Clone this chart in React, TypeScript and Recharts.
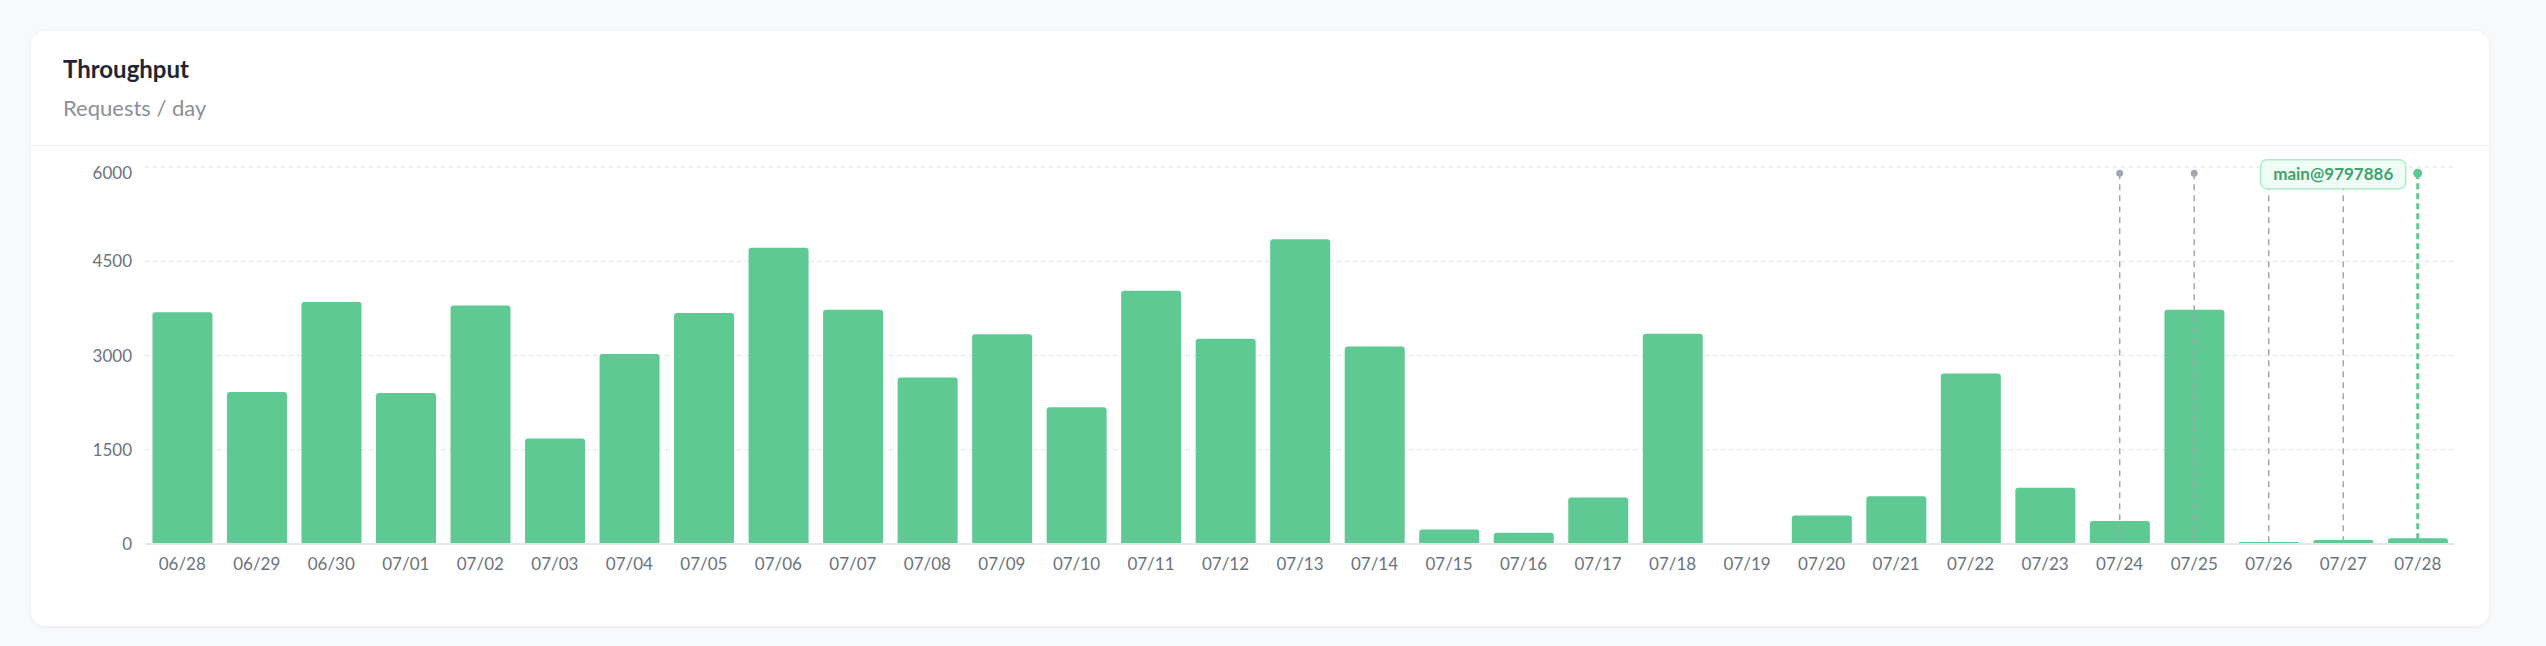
import React from "react";
import {
  Bar,
  BarChart,
  CartesianGrid,
  ReferenceDot,
  ReferenceLine,
  XAxis,
  YAxis,
} from "recharts";

const dates = [
  "06/28", "06/29", "06/30", "07/01", "07/02", "07/03", "07/04", "07/05",
  "07/06", "07/07", "07/08", "07/09", "07/10", "07/11", "07/12", "07/13",
  "07/14", "07/15", "07/16", "07/17", "07/18", "07/19", "07/20", "07/21",
  "07/22", "07/23", "07/24", "07/25", "07/26", "07/27", "07/28",
];
const requests = [
  3690, 2420, 3850, 2405, 3795, 1680, 3025, 3675, 4715, 3730, 2650, 3340,
  2175, 4030, 3265, 4850, 3145, 230, 180, 740, 3345, 0, 455, 758, 2715, 895,
  365, 3730, 32, 64, 90,
];
const yTicks = [0, 1500, 3000, 4500, 6000];

// deploy markers
const pastDeploys = ["07/24", "07/25", "07/26", "07/27"];
const latestDeploy = "07/28";
const latestDeployLabel = "main@9797886";
const markerLevel = 5900;

const data = dates.map((date, i) => ({ date, requests: requests[i] }));

const GREEN = "#5ec993";
const GRAY = "#a3a7b0";

const YTick = ({ x, y, payload }: any) => (
  <text
    x={x}
    y={payload.value === 6000 ? y + 6 : y}
    dy="0.355em"
    textAnchor="end"
    fill="#6b7280"
    fontSize={17}
  >
    {payload.value}
  </text>
);

const DeployTag = ({ viewBox }: any) => {
  if (!viewBox) return null;
  const cx = viewBox.x + viewBox.width / 2;
  const cy = viewBox.y + viewBox.height / 2;
  const w = 145;
  const h = 29;
  const right = cx - 12;
  return (
    <g>
      <rect
        x={right - w}
        y={cy - h / 2 + 1}
        width={w}
        height={h}
        rx={6}
        fill="#effdf6"
        stroke="#aeeecd"
        strokeWidth={1.5}
      />
      <text
        x={right - w / 2}
        y={cy + 1}
        dy="0.355em"
        textAnchor="middle"
        fill="#3fa36f"
        fontSize={17}
        fontWeight={700}
      >
        {latestDeployLabel}
      </text>
    </g>
  );
};

const App = () => {
  return (
    <div
      style={{
        position: "absolute",
        left: 0,
        top: 0,
        width: 2546,
        height: 646,
        background: "#f8f9fb",
        fontFamily: "Lato, sans-serif",
      }}
    >
      <div
        style={{
          position: "absolute",
          left: 31,
          top: 31,
          width: 2458,
          height: 595,
          background: "#fff",
          borderRadius: 14,
          boxShadow: "0 1px 4px rgba(15, 23, 42, 0.07)",
        }}
      >
        <div
          style={{
            position: "absolute",
            left: 32,
            top: 26,
            fontSize: 24,
            lineHeight: "24px",
            fontWeight: 700,
            color: "#1f2633",
          }}
        >
          Throughput
        </div>
        <div
          style={{
            position: "absolute",
            left: 32,
            top: 66,
            fontSize: 22,
            lineHeight: "22px",
            color: "#8c9096",
          }}
        >
          Requests / day
        </div>
        <div
          style={{
            position: "absolute",
            left: 0,
            right: 0,
            top: 114,
            height: 1,
            background: "#eceef1",
          }}
        />
        <div style={{ position: "absolute", left: 0, top: 115 }}>
          <BarChart
            width={2458}
            height={480}
            data={data}
            margin={{ top: 21, right: 34, bottom: 52, left: 0 }}
            barCategoryGap="10%"
          >
            <CartesianGrid
              vertical={false}
              stroke="#e2e4e8"
              strokeDasharray="4 4"
            />
            <XAxis
              dataKey="date"
              height={30}
              axisLine={{ stroke: "#e4e6ea", strokeWidth: 2 }}
              tickLine={false}
              tickMargin={8}
              interval={0}
              tick={{ fill: "#6b7280", fontSize: 17 }}
            />
            <YAxis
              width={114}
              domain={[0, 6000]}
              ticks={yTicks}
              axisLine={false}
              tickLine={false}
              tickMargin={7}
              tick={<YTick />}
            />
            <Bar
              dataKey="requests"
              fill={GREEN}
              radius={[3, 3, 0, 0]}
              isAnimationActive={false}
            />
            {pastDeploys.map((d) => (
              <ReferenceLine
                key={`line-${d}`}
                segment={[
                  { x: d, y: markerLevel },
                  { x: d, y: 0 },
                ]}
                stroke={GRAY}
                strokeWidth={1.5}
                strokeDasharray="6 5"
              />
            ))}
            {pastDeploys.map((d) => (
              <ReferenceDot
                key={`dot-${d}`}
                x={d}
                y={markerLevel}
                r={3.5}
                fill={GRAY}
                stroke="none"
              />
            ))}
            <ReferenceLine
              segment={[
                { x: latestDeploy, y: markerLevel },
                { x: latestDeploy, y: 0 },
              ]}
              stroke={GREEN}
              strokeWidth={3}
              strokeDasharray="6 4"
            />
            <ReferenceDot
              x={latestDeploy}
              y={markerLevel}
              r={4.5}
              fill={GREEN}
              stroke="none"
              label={(props: any) => <DeployTag {...props} />}
            />
          </BarChart>
        </div>
      </div>
    </div>
  );
};

export default App;
